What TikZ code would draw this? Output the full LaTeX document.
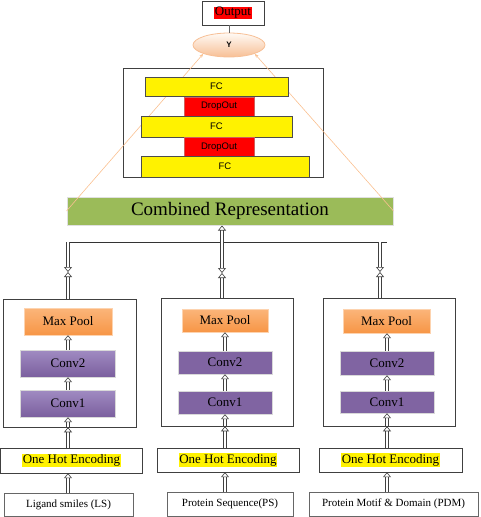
\documentclass[tikz,border=0pt]{standalone}
\usepackage{fontspec}
\setmainfont{Liberation Serif}
\setsansfont{Liberation Sans}
\usetikzlibrary{arrows.meta,shapes.geometric}
\definecolor{poolTop}{HTML}{FBB57A}
\definecolor{poolBot}{HTML}{F79646}
\definecolor{convTop}{HTML}{A08BC2}
\definecolor{convBot}{HTML}{7B5F9E}
\definecolor{convFlat}{HTML}{8064A2}
\definecolor{combGreen}{HTML}{9BBB59}
\definecolor{dropEdge}{HTML}{D0605C}
\definecolor{guideOrange}{HTML}{FAC090}
\definecolor{peach}{HTML}{F7BF95}
\begin{document}
\begin{tikzpicture}[x=1pt,y=-1pt,
    every node/.style={inner sep=0pt, font=\rmfamily\fontsize{13}{15}\selectfont},
    frame/.style={draw=black!75, line width=0.6pt},
    fcbox/.style={draw=black!70, fill=yellow, font=\sffamily\fontsize{9.5}{11}\selectfont},
    dropbox/.style={draw=dropEdge, line width=1pt, fill=red, font=\sffamily\fontsize{9.5}{11}\selectfont},
    poolbox/.style={draw=poolTop!60, top color=poolTop, bottom color=poolBot},
    convbox/.style={draw=black!15, top color=convTop, bottom color=convBot},
    convflat/.style={draw=black!15, fill=convFlat},
    codebox/.style={draw=black!75, fill=white},
    inbox/.style={draw=black!60, font=\rmfamily\fontsize{11}{13}\selectfont},
    hollow/.style={draw=black!75, line width=0.6pt, double=white, double distance=2.4pt,
      -{Triangle[open, length=5pt, width=8pt]}},
    guide/.style={draw=guideOrange, line width=0.6pt, -{Stealth[length=4pt, width=3pt]}}]
  \useasboundingbox (0,0) rectangle (480,517);
  \setlength{\fboxsep}{0.6pt}

  \node[frame, minimum width=62, minimum height=24] (out) at (233,13) {\colorbox{red}{Output}};
  \node[ellipse, draw=peach, line width=0.8pt, top color=orange!4, bottom color=peach,
    minimum width=72, minimum height=24, font=\sffamily\bfseries\fontsize{8}{9}\selectfont] (y) at (229,45) {Y};
  \draw[black!60] (out.south -| y) -- (y.north);

  \node[frame, minimum width=200, minimum height=109] (head) at (223,122.5) {};
  \node[fill=combGreen, draw=black!12, line width=1pt, minimum width=326, minimum height=28,
    font=\rmfamily\fontsize{19}{21}\selectfont] (comb) at (230,211) {Combined Representation};
  \draw[guide] (comb.west) -- (y.south west);
  \draw[guide] (comb.east) -- (y.south east);

  \node[fcbox, minimum width=143, minimum height=19] (fc1) at (216.5,86.5) {FC};
  \node[dropbox, minimum width=70, minimum height=19] (do1) at (219,106.5) {DropOut};
  \node[fcbox, minimum width=151, minimum height=21] (fc2) at (216.5,126.5) {FC};
  \node[dropbox, minimum width=70, minimum height=20] (do2) at (219,147) {DropOut};
  \node[fcbox, minimum width=168, minimum height=21] (fc3) at (225,166.5) {FC};

  \node[frame, minimum width=133, minimum height=128] (boxL) at (69.5,363) {};
  \node[poolbox, minimum width=88, minimum height=27] (mpL) at (68,321.5) {Max Pool};
  \node[convbox, minimum width=95, minimum height=27] (c2L) at (68,363.5) {Conv2};
  \node[convbox, minimum width=95, minimum height=27] (c1L) at (68,403.5) {Conv1};
  \node[codebox, minimum width=142, minimum height=25] (ohL) at (71.5,460.5) {\colorbox{yellow}{One Hot Encoding}};
  \node[inbox, minimum width=129, minimum height=23] (inL) at (68.5,504.5) {Ligand smiles (LS)};

  \node[frame, minimum width=132, minimum height=128] (boxM) at (227,362) {};
  \node[poolbox, minimum width=86, minimum height=23] (mpM) at (225,320.5) {Max Pool};
  \node[convflat, minimum width=94, minimum height=23] (c2M) at (225,362.5) {Conv2};
  \node[convflat, minimum width=94, minimum height=23] (c1M) at (225,402.5) {Conv1};
  \node[codebox, minimum width=142, minimum height=24] (ohM) at (228,460) {\colorbox{yellow}{One Hot Encoding}};
  \node[inbox, minimum width=126, minimum height=24] (inM) at (230,504) {Protein Sequence(PS)};

  \node[frame, minimum width=132, minimum height=128] (boxR) at (389,362) {};
  \node[poolbox, minimum width=87, minimum height=24] (mpR) at (386.5,321) {Max Pool};
  \node[convflat, minimum width=94, minimum height=24] (c2R) at (387,363) {Conv2};
  \node[convflat, minimum width=94, minimum height=22] (c1R) at (387,402) {Conv1};
  \node[codebox, minimum width=143, minimum height=24] (ohR) at (390.5,460) {\colorbox{yellow}{One Hot Encoding}};
  \node[inbox, minimum width=169, minimum height=24] (inR) at (393.5,504) {Protein Motif \& Domain (PDM)};

  \coordinate (hubL) at (68,242);
  \coordinate (hubM) at (222,242);
  \coordinate (hubR) at (380,242);
  \coordinate (metL) at (68,272);
  \coordinate (metM) at (222,273);
  \coordinate (metR) at (380,272);
  \draw[black!80, line width=0.6pt] (70,242) -- (387,242);
  \draw[hollow] (hubM) -- (comb.south -| hubM);
  \draw[hollow] (hubL) -- (metL);
  \draw[hollow] (hubM) -- (metM);
  \draw[hollow] (hubR) -- (metR);
  \draw[hollow] (boxL.north -| metL) -- (metL);
  \draw[hollow] (boxM.north -| metM) -- (metM);
  \draw[hollow] (boxR.north -| metR) -- (metR);

  \draw[hollow] (c2L.north) -- (mpL.south -| c2L);
  \draw[hollow] (c1L.north) -- (c2L.south);
  \draw[hollow] (ohL.north -| c1L) -- (boxL.south -| c1L);
  \draw[hollow] (boxL.south -| c1L) -- (c1L.south);
  \draw[hollow] (inL.north -| c1L) -- (ohL.south -| c1L);

  \draw[hollow] (c2M.north) -- (mpM.south);
  \draw[hollow] (c1M.north) -- (c2M.south);
  \draw[hollow] (ohM.north -| c1M) -- (boxM.south -| c1M);
  \draw[hollow] (boxM.south -| c1M) -- (c1M.south);
  \draw[hollow] (inM.north -| c1M) -- (ohM.south -| c1M);

  \draw[hollow] (c2R.north) -- (mpR.south -| c2R);
  \draw[hollow] (c1R.north) -- (c2R.south);
  \draw[hollow] (ohR.north -| c1R) -- (boxR.south -| c1R);
  \draw[hollow] (boxR.south -| c1R) -- (c1R.south);
  \draw[hollow] (inR.north -| c1R) -- (ohR.south -| c1R);
\end{tikzpicture}
\end{document}
